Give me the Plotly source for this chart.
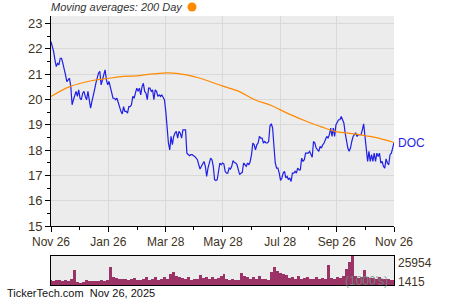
import pandas as pd
import plotly.graph_objects as go

start_date = "2024-11-26"
end_date = "2025-11-26"

# Daily closing prices, Nov 26 2024 -> Nov 26 2025
price = [
    22.29, 22.09, 21.89, 21.57, 21.30, 21.43, 21.37, 21.63, 21.63, 21.43,
    21.24, 20.97, 20.71, 20.78, 20.84, 20.51, 19.79, 19.99, 20.18, 20.32,
    20.12, 20.38, 20.05, 19.99, 20.25, 20.32, 20.12, 19.99, 20.32, 19.99,
    19.66, 19.92, 20.12, 20.38, 20.64, 20.84, 21.04, 21.11, 20.58, 20.78,
    20.97, 21.17, 20.78, 20.58, 20.71, 20.51, 20.32, 20.05, 20.05, 19.99,
    20.05, 19.86, 19.66, 19.53, 19.43, 19.72, 19.53, 19.53, 19.46, 19.72,
    19.72, 19.79, 20.12, 20.05, 20.25, 20.45,
    20.32, 20.45, 20.18, 20.51, 20.64, 20.32, 20.25, 19.99, 20.45, 20.45,
    20.32, 20.38, 19.99, 20.38, 20.32, 20.12, 20.18, 20.12, 20.18, 20.05,
    19.99, 19.53, 18.67, 18.28, 18.01, 18.54, 18.21, 18.54, 18.67, 18.74,
    18.47, 18.74, 18.67, 18.47, 18.80, 18.80, 18.80, 17.88, 17.82, 17.78,
    17.82, 17.82, 17.78, 17.75, 17.68, 17.62, 17.42, 17.25, 17.36, 17.49,
    17.55, 17.36, 16.96, 17.29, 17.49, 17.68, 17.62, 17.36, 16.83, 16.80,
    16.83, 17.29, 17.49, 17.42, 17.49,
    17.46, 17.16, 17.09, 17.09, 17.29, 17.25, 17.36, 17.58, 17.51, 17.49,
    17.42, 17.16, 17.03, 17.09, 17.12, 17.49, 17.42, 17.36, 17.49, 17.42,
    17.55, 17.82, 18.28, 18.21, 18.01, 18.21, 18.28, 18.54, 18.47, 18.47,
    18.28, 18.34, 18.28, 18.28, 18.34, 18.96, 19.04, 18.87, 18.15, 17.49,
    17.29, 17.29, 17.09, 16.80, 16.90, 17.09, 17.16, 16.90, 16.96, 16.83,
    16.90, 16.76, 17.09, 17.09, 17.16, 17.09, 17.29, 17.22, 17.22, 17.68,
    17.55, 17.62, 17.88, 17.88, 17.88,
    17.95, 17.86, 17.72, 18.34, 18.28, 18.08, 18.01, 17.95, 18.15, 18.08,
    18.21, 18.28, 18.41, 18.54, 18.47, 18.61, 18.87, 18.54, 18.87, 18.54,
    19.00, 19.13, 19.20, 19.20, 19.33, 19.20, 19.07, 18.67, 18.34, 18.08,
    17.95, 18.08, 18.34, 18.54, 18.61, 18.67, 18.54, 18.61, 18.61, 18.61,
    18.80, 19.04, 18.54, 17.88, 17.55, 17.95, 17.55, 17.82, 17.55, 17.88,
    17.55, 17.88, 17.75, 17.88, 17.49, 17.55, 17.36, 17.29, 17.65, 17.49,
    17.42, 17.82, 17.88, 18.08, 18.30,
]

# 200-day moving average
ma_dates = [
    "2024-11-26", "2024-12-16", "2025-01-08", "2025-01-25", "2025-02-11",
    "2025-02-24", "2025-03-15", "2025-03-31", "2025-04-19", "2025-05-07",
    "2025-05-27", "2025-06-14", "2025-07-01", "2025-07-19", "2025-08-06",
    "2025-08-28", "2025-09-09", "2025-09-24", "2025-10-08", "2025-10-22",
    "2025-11-06", "2025-11-26",
]
ma_values = [
    20.12, 20.51, 20.74, 20.83, 20.91, 20.93, 21.01, 21.05, 20.97, 20.80,
    20.54, 20.32, 19.99, 19.75, 19.43, 19.09, 18.93, 18.74, 18.67, 18.60,
    18.50, 18.30,
]

# Volume (thousands of shares)
volume = [
    4200, 3900, 4100, 4600, 3700, 4400, 3800, 5500, 13000, 2800,
    1415, 3000, 4100, 3600, 3900, 4000, 3500, 4300, 3800, 4500,
    16000, 7500, 6000, 5800, 5200, 5500, 4800, 5000, 6600, 4700,
    4900, 5300, 7300, 4600, 5100, 7400, 4900, 5600, 7200, 5000,
    9500, 11400, 8000, 7000, 6200, 5800, 7300, 4700, 5400, 5000,
    9300, 6200, 7000, 5600, 7400, 5500, 6400, 8500, 9600, 5200,
    4600, 5000, 4500, 4800, 10500, 8000, 6800, 5700, 7500, 5400,
    8000, 5300, 5600, 4900, 11500, 16000, 12500, 10500, 9500, 8800,
    6200, 7200, 5700, 7800, 5500, 6200, 7500, 5200, 5600, 7300,
    5300, 6000, 5600, 18200, 6200, 5800, 7000, 6500, 8000, 14500,
    20700, 25954, 8000, 6000, 6800, 13600, 7000, 6000, 6600, 5200,
    6800, 5500, 5800, 5200, 4800, 4500,
]

x_tickvals = ["2024-11-26", "2025-01-26", "2025-03-28", "2025-05-28",
              "2025-07-28", "2025-09-26", "2025-11-26"]
x_ticktext = ["Nov 26", "Jan 26", "Mar 28", "May 28", "Jul 28", "Sep 26", "Nov 26"]
x_minor = ["2024-12-26", "2025-02-26", "2025-04-27", "2025-06-27",
           "2025-08-27", "2025-10-27"]
y_ticks = [15, 16, 17, 18, 19, 20, 21, 22, 23]

price_dates = pd.date_range(start_date, end_date, periods=len(price))
vol_dates = pd.date_range(start_date, end_date, periods=len(volume))

W, H = 450, 300
def px(x):
    return x / W
def py(y):
    return 1 - y / H

label_color = "#3d3322"
font_family = "Liberation Sans, Arial, sans-serif"

fig = go.Figure()
fig.add_trace(go.Scatter(x=price_dates, y=price, mode="lines",
                         line=dict(color="#1f1fe6", width=1.2),
                         xaxis="x", yaxis="y", hoverinfo="skip"))
fig.add_trace(go.Scatter(x=pd.to_datetime(ma_dates), y=ma_values, mode="lines",
                         line=dict(color="#ff8a00", width=1.2, shape="spline"),
                         xaxis="x", yaxis="y", hoverinfo="skip"))
fig.add_trace(go.Bar(x=vol_dates, y=volume, marker=dict(color="#9b3366", line_width=0),
                     xaxis="x2", yaxis="y2", hoverinfo="skip"))

fig.update_layout(
    width=W, height=H, margin=dict(l=0, r=0, t=0, b=0, autoexpand=False),
    paper_bgcolor="white", plot_bgcolor="#ececec", showlegend=False,
    font=dict(family=font_family, color=label_color),
    bargap=0,
    xaxis=dict(domain=[px(51), px(394)], anchor="y", type="date", automargin=False,
               range=[start_date, end_date],
               tickmode="array", tickvals=x_tickvals, ticktext=x_ticktext,
               ticks="outside", ticklen=5, tickcolor="black",
               showline=True, linecolor="black", linewidth=1,
               showgrid=True, gridcolor="#d9d9d9", gridwidth=1, zeroline=False,
               tickfont=dict(size=12, color=label_color),
               minor=dict(tickmode="array", tickvals=x_minor, ticks="outside",
                          ticklen=3, tickcolor="black", showgrid=False)),
    yaxis=dict(domain=[py(226), py(16)], anchor="x", automargin=False,
               range=[15, 23.3], tickmode="array", tickvals=y_ticks,
               ticks="outside", ticklen=5, tickcolor="black",
               showline=True, linecolor="black", linewidth=1,
               showgrid=True, gridcolor="#d9d9d9", gridwidth=1, zeroline=False,
               tickfont=dict(size=13, color=label_color),
               minor=dict(dtick=0.5, ticks="outside", ticklen=3,
                          tickcolor="black", showgrid=False)),
    xaxis2=dict(domain=[px(51), px(394)], anchor="y2", type="date", automargin=False,
                range=[start_date, end_date], showticklabels=False,
                showgrid=False, zeroline=False, ticks="",
                showline=True, mirror=True, linecolor="black", linewidth=1),
    yaxis2=dict(domain=[py(285), py(256)], anchor="x2", automargin=False,
                range=[0, max(volume)], showticklabels=False,
                showgrid=False, zeroline=False, ticks="",
                showline=True, mirror=True, linecolor="black", linewidth=1),
)

fig.add_shape(type="circle", xref="paper", yref="paper",
              x0=px(187.5), x1=px(196.5), y0=py(11.5), y1=py(2.5),
              fillcolor="#ff8a00", line=dict(width=0))

annotations = [
    dict(text="<i>Moving averages: 200 Day</i>", x=px(49), y=py(7),
         xanchor="left", yanchor="middle", showarrow=False,
         font=dict(size=11, color="#333333")),
    dict(text="DOC", x=price_dates[-1], y=price[-1], xref="x", yref="y",
         xanchor="left", yanchor="middle", xshift=2, showarrow=False,
         font=dict(size=12, color="#1f1fe6")),
    dict(text=str(max(volume)), x=px(396), y=py(262.5),
         xanchor="left", yanchor="middle", showarrow=False,
         font=dict(size=12, color=label_color)),
    dict(text=str(min(volume)), x=px(396), y=py(281.5),
         xanchor="left", yanchor="middle", showarrow=False,
         font=dict(size=12, color=label_color)),
    dict(text="(1000's)", x=px(390), y=py(281),
         xanchor="right", yanchor="middle", showarrow=False,
         font=dict(size=12, color="rgba(110,150,130,0.8)")),
    dict(text="TickerTech.com  Nov 26, 2025", x=px(5), y=py(293),
         xanchor="left", yanchor="middle", showarrow=False,
         font=dict(size=11, color="#111111")),
]
for a in annotations:
    a.setdefault("xref", "paper")
    a.setdefault("yref", "paper")
    fig.add_annotation(**a)

fig.write_html("out.html")
